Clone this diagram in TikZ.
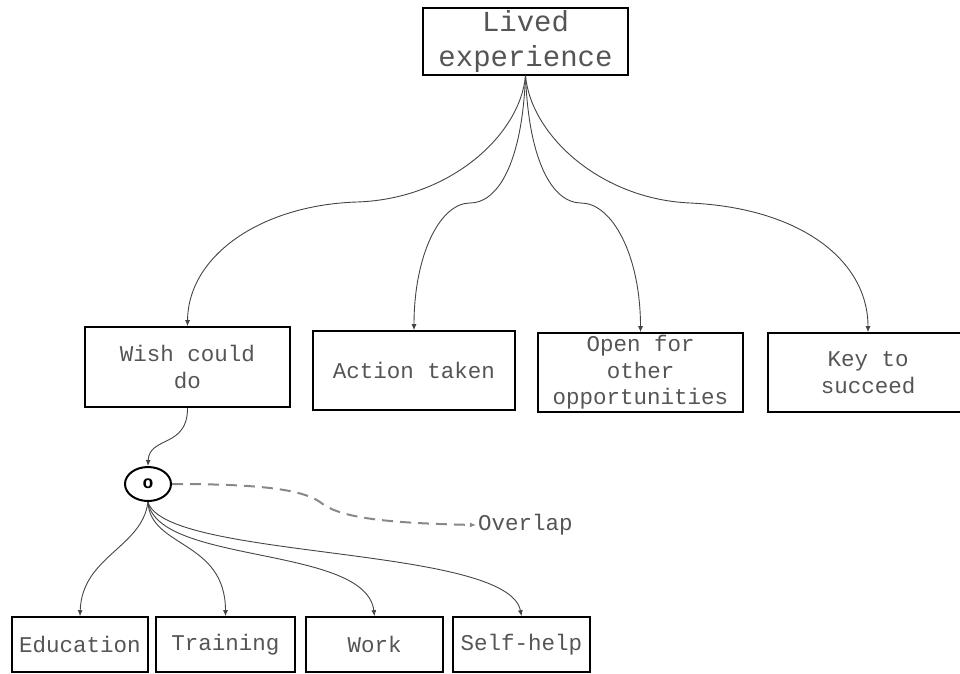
\documentclass[tikz,border=0pt]{standalone}
\usepackage{fontspec}
\setmainfont{Liberation Mono}
\usetikzlibrary{arrows.meta,shapes.geometric}
\definecolor{txtgray}{HTML}{555555}
\definecolor{edgegray}{HTML}{444444}
\definecolor{dashgray}{HTML}{888888}
\tikzset{
  box/.style={draw=black,line width=1.6pt,fill=white,inner sep=0pt,align=center,text=txtgray,
    font=\fontsize{22.5}{27}\selectfont},
  conn/.style={draw=edgegray,line width=0.9pt,-{Latex[length=6pt,width=5pt]}},
}
\begin{document}
\begin{tikzpicture}[x=1pt,y=-1pt]
\useasboundingbox (0,0) rectangle (960,673);
\node[box,minimum width=205pt,minimum height=67pt,font=\fontsize{29}{35}\selectfont] (lived) at (525.5,41.5) {Lived\\experience};
\node[box,minimum width=205pt,minimum height=80pt] (wish) at (187.5,367) {Wish could\\do};
\node[box,minimum width=202pt,minimum height=79pt] (action) at (414,370.5) {Action taken};
\node[box,minimum width=205pt,minimum height=79pt,font=\fontsize{22.5}{26.5}\selectfont] (open) at (640.5,372.5) {Open for\\other\\opportunities};
\node[box,minimum width=200pt,minimum height=79pt,font=\fontsize{22.5}{26.5}\selectfont] (key) at (868,372.5) {Key to\\succeed};
\node[draw=black,ellipse,line width=2pt,minimum width=46pt,minimum height=34pt,inner sep=0pt,text=black,font=\fontsize{18}{20}\selectfont\bfseries] (ov) at (148,484) {o};
\node[anchor=west,inner sep=2pt,text=txtgray,font=\fontsize{22.5}{27}\selectfont] (overlap) at (476,525) {Overlap};
\node[box,minimum width=136pt,minimum height=55pt] (edu) at (80,644.5) {Education};
\node[box,minimum width=139pt,minimum height=55pt] (train) at (225.5,644.5) {Training};
\node[box,minimum width=137pt,minimum height=55pt] (work) at (374.5,644.5) {Work};
\node[box,minimum width=137pt,minimum height=55pt] (self) at (521.5,644.5) {Self-help};

\path[conn] (lived.south) .. controls (520,135) and (450,199) .. (357,202) .. controls (262,205) and (188,255) .. (wish.north);
\path[conn] (lived.south) .. controls (522,165) and (497,203) .. (470,203) .. controls (440,203) and (414,255) .. (action.north);
\path[conn] (lived.south) .. controls (529,165) and (554,203) .. (581,203) .. controls (612,203) and (640.5,255) .. (open.north);
\path[conn] (lived.south) .. controls (531,135) and (600,199) .. (690,203) .. controls (800,208) and (868,260) .. (key.north);

\path[conn] (wish.south) .. controls (188,448) and (149,436) .. (ov.north);

\path[conn] (ov.south) .. controls (142,548) and (82,556) .. (edu.north);
\path[conn] (ov.south) .. controls (150,548) and (225.5,540) .. (train.north);
\path[conn] (ov.south) .. controls (158,565) and (366,545) .. (work.north);
\path[conn] (ov.south) .. controls (165,560) and (508,545) .. (self.north);

\draw[draw=dashgray,line width=2pt,dash pattern=on 11pt off 7pt,-{Latex[length=6pt,width=5pt]}]
  (ov.east) .. controls (250,484) and (300,488) .. (320,502) .. controls (338,517) and (380,523) .. (overlap.west);
\end{tikzpicture}
\end{document}
